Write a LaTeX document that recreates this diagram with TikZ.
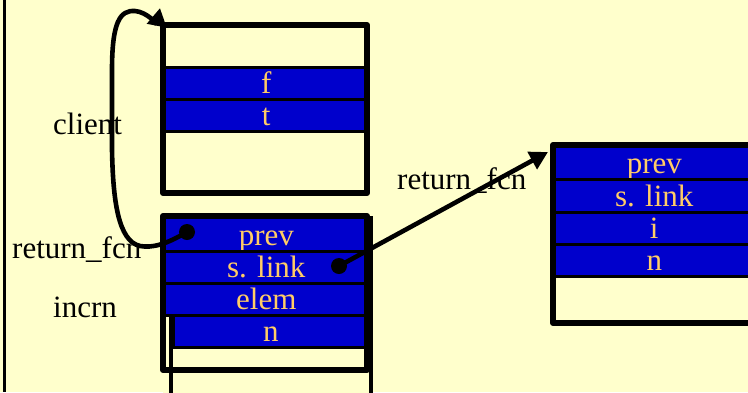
\documentclass[tikz,border=0pt]{standalone}
\usepackage{fontspec}
\setmainfont{Liberation Serif}
\usetikzlibrary{arrows.meta}
\definecolor{paper}{HTML}{FFFFCC}
\definecolor{slotblue}{HTML}{0000CC}
\definecolor{slottext}{HTML}{FFCC66}
\begin{document}
\begin{tikzpicture}[x=1pt,y=-1pt,
  bigfont/.style={font=\fontsize{31}{31}\selectfont},
  slot/.style={bigfont,draw=black,line width=2.6pt,fill=slotblue,text=slottext,
    anchor=north west,inner sep=0pt,minimum width=204pt,minimum height=32pt,
    text height=26pt,text depth=6pt},
  framebox/.style={draw=black,line width=6pt,line join=round},
  backline/.style={draw=black,line width=4pt},
  lbl/.style={bigfont,inner sep=0pt,anchor=base west,text=black},
  dot/.style={circle,fill=black,inner sep=0pt,minimum size=16pt},
  link/.style={draw=black,line width=4.6pt,
    -{Triangle[length=18pt,width=19pt]}}]
  \useasboundingbox (0,0) rectangle (748,392);
  \clip (0,0) rectangle (748,392);
  \fill[paper] (0,0) rectangle (748,392);
  \draw[line width=3.5pt] (4.5,0) -- (4.5,392);

  % frame of the client
  \fill[paper] (163,25) rectangle (367,193);
  \node[slot] (cf) at (163,66) {f};
  \node[slot] (ct) at (163,98) {t};
  \draw[framebox] (163,25) rectangle (367,193);

  % frame of incrn, with the stack continuing beneath it
  \fill[paper] (163,216) rectangle (372,400);
  \fill[slotblue] (367,216) rectangle (371,346);
  \draw[backline] (171,314) -- (171,400);
  \draw[backline] (371,216) -- (371,400);
  \node[slot,minimum height=34pt,text height=28pt] (iprev) at (163,216) {prev};
  \node[slot] (ilink) at (163,250) {s. link};
  \node[slot] (ielem) at (163,282) {elem};
  \node[slot,minimum width=195pt] (in) at (172,314) {n};
  \draw[framebox] (163,216) rectangle (367,370);

  % frame of return_fcn
  \fill[paper] (553,145) rectangle (760,323);
  \node[slot,minimum width=200pt,minimum height=33pt,text height=27pt] (rprev) at (553,145) {prev};
  \node[slot,minimum width=200pt,minimum height=33pt,text height=27pt] (rlink) at (553,178) {s. link};
  \node[slot,minimum width=200pt] (ri) at (553,211) {i};
  \node[slot,minimum width=200pt] (rn) at (553,243) {n};
  \draw[framebox] (553,145) rectangle (753,323);

  % labels
  \node[lbl] (lclient) at (53,134) {client};
  \node[lbl] (lret) at (12,258) {return\_fcn};
  \node[lbl] (lincrn) at (53,317) {incrn};
  \node[lbl] (lret2) at (397,189) {return\_fcn};

  % pointers
  \node[dot] (d1) at (187,232) {};
  \node[dot] (d2) at (339,266) {};
  \coordinate (tip1) at (160,8);
  \coordinate (tip2) at (548,152);
  \draw[link] (d1.center) .. controls (165,245) and (152,248) .. (140,246)
    .. controls (118,241) and (113,200) .. (112,150) -- (112,70)
    .. controls (112,22) and (120,10) .. (135,11)
    .. controls (147,12) and (157,24) .. (tip1);
  \draw[link] (d2.center) -- (tip2);
\end{tikzpicture}
\end{document}
